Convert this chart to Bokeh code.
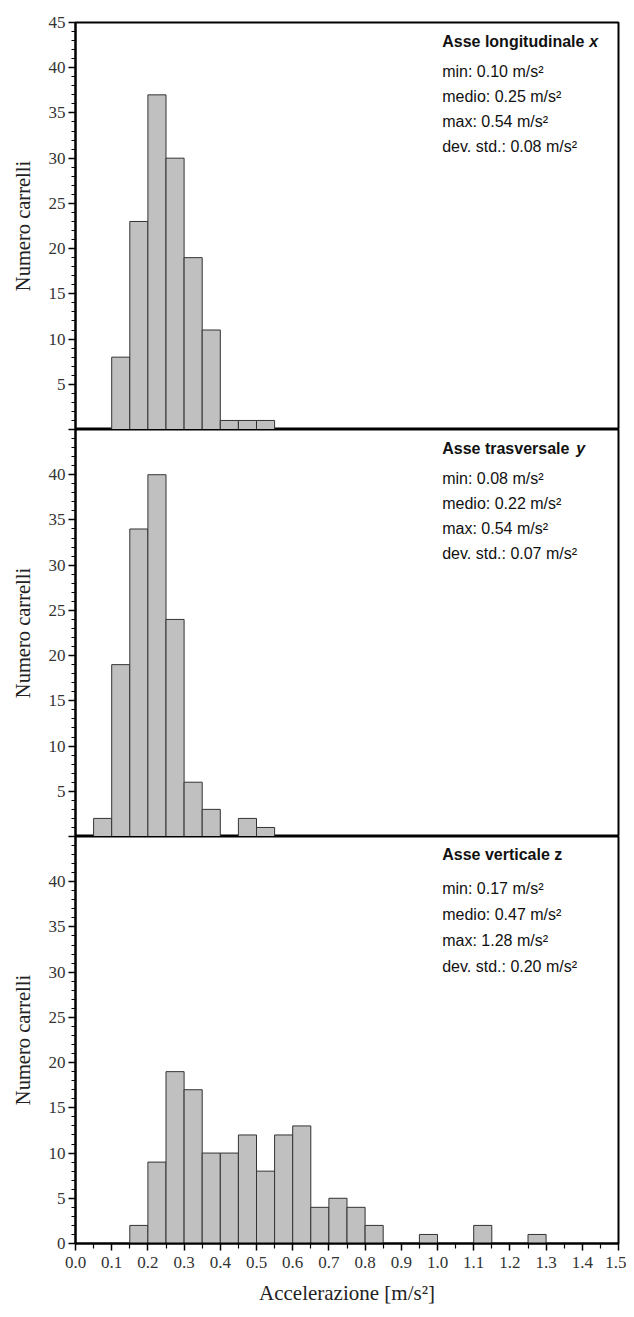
from bokeh.plotting import figure
from bokeh.layouts import column
from bokeh.models import Range1d, FixedTicker, Label, NumeralTickFormatter
from bokeh.embed import file_html
from bokeh.resources import INLINE

# ---- data ----
bin_width = 0.05
x_bins = [0.10, 0.15, 0.20, 0.25, 0.30, 0.35, 0.40, 0.45, 0.50]
x_counts = [8, 23, 37, 30, 19, 11, 1, 1, 1]

y_bins = [0.05, 0.10, 0.15, 0.20, 0.25, 0.30, 0.35, 0.40, 0.45, 0.50]
y_counts = [2, 19, 34, 40, 24, 6, 3, 0, 2, 1]

z_bins = [0.15, 0.20, 0.25, 0.30, 0.35, 0.40, 0.45, 0.50, 0.55, 0.60, 0.65, 0.70,
          0.75, 0.80, 0.85, 0.90, 0.95, 1.00, 1.05, 1.10, 1.15, 1.20, 1.25]
z_counts = [2, 9, 19, 17, 10, 10, 12, 8, 12, 13, 4, 5,
            4, 2, 0, 0, 1, 0, 0, 2, 0, 0, 1]

x_title = ["Asse longitudinale", "x"]
y_title = ["Asse trasversale", "y"]
z_title = ["Asse verticale z", ""]

x_stats = ["min: 0.10 m/s²", "medio: 0.25 m/s²", "max: 0.54 m/s²", "dev. std.: 0.08 m/s²"]
y_stats = ["min: 0.08 m/s²", "medio: 0.22 m/s²", "max: 0.54 m/s²", "dev. std.: 0.07 m/s²"]
z_stats = ["min: 0.17 m/s²", "medio: 0.47 m/s²", "max: 1.28 m/s²", "dev. std.: 0.20 m/s²"]

x_ticks = [0.0, 0.1, 0.2, 0.3, 0.4, 0.5, 0.6, 0.7, 0.8, 0.9, 1.0, 1.1, 1.2, 1.3, 1.4, 1.5]
y_ticks = [0, 5, 10, 15, 20, 25, 30, 35, 40, 45]

X_MAX = 1.5
Y_MAX = 45
FRAME_W = 543
FRAME_H = 407
SERIF = "Liberation Serif"
SANS = "Liberation Sans"


def make_panel(bins, counts, title, stats, hidden_labels, show_x, top_border,
               title_off, line_offs, italic_off):
    p = figure(
        output_backend="svg", toolbar_location=None,
        frame_width=FRAME_W, frame_height=FRAME_H,
        x_range=Range1d(0, X_MAX), y_range=Range1d(0, Y_MAX),
        x_axis_location="below" if show_x else None,
        min_border_left=75, min_border_right=8,
        min_border_top=top_border, min_border_bottom=68 if show_x else 0,
        background_fill_color="white", border_fill_color="white",
    )
    p.grid.visible = False
    p.outline_line_color = "black"
    p.outline_line_width = 2
    p.outline_line_alpha = 1

    left = [b for b, c in zip(bins, counts) if c > 0]
    top = [c for c in counts if c > 0]
    right = [b + bin_width for b in left]
    p.quad(left=left, right=right, bottom=0, top=top,
           fill_color="#c0c0c0", line_color="#333333", line_width=1)

    # y axis
    ya = p.yaxis[0]
    ya.ticker = FixedTicker(ticks=y_ticks, minor_ticks=list(range(0, Y_MAX + 1)))
    ya.major_label_overrides = {t: "" for t in hidden_labels}
    ya.axis_label = "Numero carrelli"
    ya.axis_label_text_font = SERIF
    ya.axis_label_text_font_style = "normal"
    ya.axis_label_text_font_size = "20.5px"
    ya.axis_label_text_color = "#222222"
    ya.axis_label_standoff = 12
    ya.major_label_text_font = SERIF
    ya.major_label_text_font_size = "17px"
    ya.major_label_text_color = "#333333"
    ya.major_label_standoff = 3
    ya.axis_line_width = 2
    ya.axis_line_color = "black"
    ya.major_tick_line_width = 1.5
    ya.major_tick_out = 7
    ya.major_tick_in = 0
    ya.minor_tick_line_width = 1.2
    ya.minor_tick_out = 4
    ya.minor_tick_in = 0

    if show_x:
        xa = p.xaxis[0]
        xa.ticker = FixedTicker(ticks=x_ticks,
                                minor_ticks=[t + 0.05 for t in x_ticks[:-1]])
        xa.formatter = NumeralTickFormatter(format="0.0")
        xa.axis_label = "Accelerazione [m/s²]"
        xa.axis_label_text_font = SERIF
        xa.axis_label_text_font_style = "normal"
        xa.axis_label_text_font_size = "21px"
        xa.axis_label_text_color = "#222222"
        xa.axis_label_standoff = 10
        xa.major_label_text_font = SERIF
        xa.major_label_text_font_size = "17px"
        xa.major_label_text_color = "#333333"
        xa.major_label_standoff = 6
        xa.axis_line_width = 2
        xa.axis_line_color = "black"
        xa.major_tick_line_width = 1.5
        xa.major_tick_out = 7
        xa.major_tick_in = 0
        xa.minor_tick_line_width = 1.2
        xa.minor_tick_out = 5
        xa.minor_tick_in = 0

    # annotations
    tx = (441.7 - 75) / FRAME_W * X_MAX

    def ypos(off):
        return Y_MAX * (1 - off / FRAME_H)

    p.add_layout(Label(x=tx, y=ypos(title_off), text=title[0],
                       text_font=SANS, text_font_style="bold",
                       text_font_size="16px", text_color="#111111",
                       text_baseline="middle", text_align="left"))
    if title[1]:
        p.add_layout(Label(x=tx, y=ypos(title_off), x_offset=italic_off, text=title[1],
                           text_font=SANS, text_font_style="bold italic",
                           text_font_size="16px", text_color="#111111",
                           text_baseline="middle", text_align="left"))
    for s, off in zip(stats, line_offs):
        p.add_layout(Label(x=tx, y=ypos(off), text=s,
                           text_font=SANS, text_font_size="16px",
                           text_color="#111111",
                           text_baseline="middle", text_align="left"))
    return p


p1 = make_panel(x_bins, x_counts, x_title, x_stats, [0], False, 22,
                19, [49, 74, 99, 124], 147)
p2 = make_panel(y_bins, y_counts, y_title, y_stats, [0, 45], False, 0,
                19, [49, 74, 99, 124], 134)
p3 = make_panel(z_bins, z_counts, z_title, z_stats, [45], True, 0,
                18, [52, 78, 104, 130], 0)

layout = column(p1, p2, p3, spacing=0)
open("out.html", "w").write(file_html(layout, INLINE))
